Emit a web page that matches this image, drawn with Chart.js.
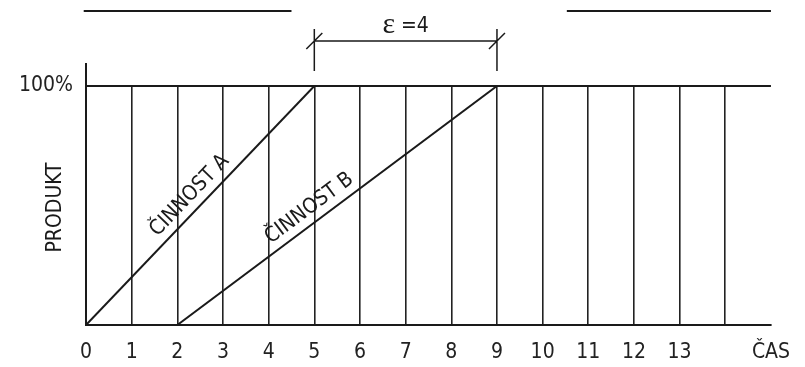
<!DOCTYPE html>
<html>
<head>
<meta charset="utf-8">
<script src="https://cdn.jsdelivr.net/npm/chart.js@4"></script>
<style>
  html, body { margin: 0; padding: 0; background: #fff; }
  #graf { display: block; }
</style>
</head>
<body>
<canvas id="graf" width="805" height="367"></canvas>
<script>
// hodnoty z obrázku
const casy = [0, 1, 2, 3, 4, 5, 6, 7, 8, 9, 10, 11, 12, 13, 14, 15];
const popiskyCasu = ["0", "1", "2", "3", "4", "5", "6", "7", "8", "9", "10", "11", "12", "13", "", "ČAS"];
const cinnostA_x = [0, 5];
const cinnostA_y = [0, 100];
const cinnostB_x = [2, 9];
const cinnostB_y = [0, 100];
const nazvyCinnosti = ["ČINNOST A", "ČINNOST B"];
const produktTicky = [0, 100];
const popiskyProduktu = ["", "100%"];

const PISMO = "'DejaVu Sans Condensed', 'DejaVu Sans', sans-serif";
const BARVA = "#1a1a1a";

function body(xs, ys) {
  return xs.map((x, i) => ({ x: x, y: ys[i] }));
}

// kreslí okótování, popisky čar a další texty
const vykres = {
  id: "vykres",
  afterDatasetsDraw(chart) {
    const ctx = chart.ctx;
    const xs = chart.scales.x;
    const area = chart.chartArea;
    const konecA = cinnostA_x[cinnostA_x.length - 1];
    const konecB = cinnostB_x[cinnostB_x.length - 1];
    const epsilon = konecB - konecA;

    ctx.save();
    ctx.strokeStyle = BARVA;
    ctx.fillStyle = BARVA;
    ctx.lineCap = "butt";

    // prodloužení osy y nad 100 %
    ctx.lineWidth = 2;
    ctx.beginPath();
    ctx.moveTo(area.left, area.top);
    ctx.lineTo(area.left, area.top - 23);
    ctx.stroke();

    // horní čáry
    ctx.beginPath();
    ctx.moveTo(xs.getPixelForValue(-0.05), 11);
    ctx.lineTo(xs.getPixelForValue(4.5), 11);
    ctx.moveTo(xs.getPixelForValue(10.53), 11);
    ctx.lineTo(xs.getPixelForValue(15), 11);
    ctx.stroke();

    // kóta epsilon
    const x1 = xs.getPixelForValue(konecA);
    const x2 = xs.getPixelForValue(konecB);
    const yk = area.top - 45;
    ctx.lineWidth = 1.5;
    ctx.beginPath();
    ctx.moveTo(x1, area.top - 15);
    ctx.lineTo(x1, area.top - 57);
    ctx.moveTo(x2, area.top - 15);
    ctx.lineTo(x2, area.top - 57);
    ctx.moveTo(x1, yk);
    ctx.lineTo(x2, yk);
    ctx.moveTo(x1 - 8, yk + 8);
    ctx.lineTo(x1 + 8, yk - 8);
    ctx.moveTo(x2 - 8, yk + 8);
    ctx.lineTo(x2 + 8, yk - 8);
    ctx.stroke();

    ctx.textBaseline = "alphabetic";
    ctx.textAlign = "left";
    const stred = (x1 + x2) / 2;
    ctx.font = "30px 'Liberation Serif', serif";
    const sirkaE = ctx.measureText("\u03b5").width;
    ctx.font = "21px " + PISMO;
    const zbytek = " =" + epsilon;
    const sirkaZ = ctx.measureText(zbytek).width;
    const zacatek = stred - (sirkaE + sirkaZ) / 2;
    ctx.font = "30px 'Liberation Serif', serif";
    ctx.fillText("\u03b5", zacatek, yk - 8);
    ctx.font = "21px " + PISMO;
    ctx.fillText(zbytek, zacatek + sirkaE, yk - 9);

    // popisky podél čar
    const umisteni = [0.5, 0.44];
    chart.data.datasets.forEach((ds, i) => {
      const meta = chart.getDatasetMeta(i);
      const p0 = meta.data[0];
      const p1 = meta.data[meta.data.length - 1];
      const dx = p1.x - p0.x;
      const dy = p1.y - p0.y;
      const uhel = Math.atan2(dy, dx);
      const t = umisteni[i];
      ctx.save();
      ctx.translate(p0.x + dx * t, p0.y + dy * t);
      ctx.rotate(uhel);
      ctx.textAlign = "center";
      ctx.textBaseline = "alphabetic";
      ctx.font = "21px " + PISMO;
      ctx.fillText(ds.label, 0, -9);
      ctx.restore();
    });

    // název osy y
    ctx.save();
    ctx.translate(56, (area.top + area.bottom) / 2 + 2);
    ctx.rotate(-Math.PI / 2);
    ctx.textAlign = "center";
    ctx.textBaseline = "middle";
    ctx.font = "21px " + PISMO;
    ctx.fillText("PRODUKT", 0, 0);
    ctx.restore();

    ctx.restore();
  }
};

const ctx = document.getElementById("graf").getContext("2d");
const graf = new Chart(ctx, {
  type: "line",
  data: {
    datasets: [
      {
        label: nazvyCinnosti[0],
        data: body(cinnostA_x, cinnostA_y),
        borderColor: BARVA,
        borderWidth: 2,
        pointRadius: 0,
        fill: false,
      },
      {
        label: nazvyCinnosti[1],
        data: body(cinnostB_x, cinnostB_y),
        borderColor: BARVA,
        borderWidth: 2,
        pointRadius: 0,
        fill: false,
      },
    ],
  },
  options: {
    responsive: false,
    animation: false,
    layout: { padding: { top: 86, right: 33, left: 0, bottom: 0 } },
    plugins: {
      legend: { display: false },
      tooltip: { enabled: false },
    },
    scales: {
      x: {
        type: "linear",
        min: casy[0],
        max: casy[casy.length - 1],
        afterBuildTicks: (s) => { s.ticks = casy.map((v) => ({ value: v })); },
        afterFit: (s) => { s.height = 42; },
        ticks: {
          autoSkip: false,
          maxRotation: 0,
          padding: 15,
          color: "#222",
          font: { family: PISMO, size: 21 },
          callback: (v) => popiskyCasu[casy.indexOf(v)] ?? "",
        },
        grid: {
          drawTicks: false,
          lineWidth: 1.6,
          color: (c) => (c.tick && c.tick.value > casy[0] && c.tick.value < casy[casy.length - 1]) ? "#222" : "rgba(0,0,0,0)",
        },
        border: { color: BARVA, width: 2 },
      },
      y: {
        min: 0,
        max: 100,
        afterBuildTicks: (s) => { s.ticks = produktTicky.map((v) => ({ value: v })); },
        afterFit: (s) => { s.width = 86; },
        ticks: {
          padding: 13,
          color: "#222",
          font: { family: PISMO, size: 21 },
          callback: (v) => popiskyProduktu[produktTicky.indexOf(v)] ?? "",
        },
        grid: {
          drawTicks: false,
          lineWidth: 2,
          color: (c) => (c.tick && c.tick.value === 100) ? BARVA : "rgba(0,0,0,0)",
        },
        border: { color: BARVA, width: 2 },
      },
    },
  },
  plugins: [vykres],
});
</script>
</body>
</html>
